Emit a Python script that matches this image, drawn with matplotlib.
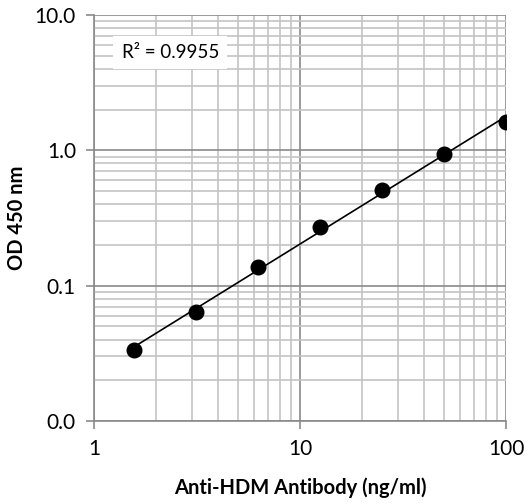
import numpy as np
import matplotlib.pyplot as plt
from matplotlib.ticker import FixedLocator, FuncFormatter, LogLocator, NullFormatter

conc = [1.5625, 3.125, 6.25, 12.5, 25, 50, 100]
od = [0.0335, 0.0642, 0.138, 0.270, 0.509, 0.94, 1.62]
r2_label = 'R² = 0.9955'

plt.rcParams['font.family'] = ['Lato', 'DejaVu Sans']

fig = plt.figure(figsize=(5.29, 5.04), dpi=100)
ax = fig.add_axes([94/529, 1 - 421/504, 412/529, 406/504])

# power trendline (straight line in log-log)
b, a = np.polyfit(np.log10(conc), np.log10(od), 1)
xs = np.array([conc[0], conc[-1]])
ax.plot(xs, 10**a * xs**b, color='black', lw=1.2, zorder=3)
ax.plot(conc, od, 'o', color='black', ms=10.5, zorder=4)

ax.set_xscale('log')
ax.set_yscale('log')
ax.set_xlim(1, 100)
ax.set_ylim(0.01, 10)

ax.xaxis.set_major_locator(FixedLocator([1, 10, 100]))
ax.yaxis.set_major_locator(FixedLocator([0.01, 0.1, 1, 10]))
ax.xaxis.set_minor_locator(LogLocator(base=10, subs=np.arange(2, 10)))
ax.yaxis.set_minor_locator(LogLocator(base=10, subs=np.arange(2, 10)))
ax.xaxis.set_major_formatter(FuncFormatter(lambda v, p: '%g' % v))
ax.yaxis.set_major_formatter(FuncFormatter(lambda v, p: '%.1f' % v))
ax.xaxis.set_minor_formatter(NullFormatter())
ax.yaxis.set_minor_formatter(NullFormatter())

ax.grid(which='major', color='#8a8a8a', lw=1.2)
ax.grid(which='minor', color='#c4c4c4', lw=1.2)
ax.set_axisbelow(True)

for s in ['top', 'right']:
    ax.spines[s].set_visible(False)
for s in ['left', 'bottom']:
    ax.spines[s].set_color('#8a8a8a')
    ax.spines[s].set_linewidth(1.2)
ax.tick_params(which='major', direction='out', length=6, width=1.2, color='#8a8a8a',
               labelsize=15, pad=7)
ax.tick_params(which='minor', length=0)

ax.set_xlabel('Anti-HDM Antibody (ng/ml)', fontsize=14.5, fontweight='bold')
ax.set_ylabel('OD 450 nm', fontsize=14.5, fontweight='bold')
ax.xaxis.set_label_coords(0.5, -0.165)
ax.yaxis.set_label_coords(-0.187, 0.5)
ax.yaxis.label.set_va('center')
ax.xaxis.label.set_va('center')

ax.text(0.185, 0.908, r2_label, transform=ax.transAxes, ha='center', va='center',
        fontsize=13.5, bbox=dict(facecolor='white', edgecolor='none', pad=6))

fig.savefig('out.png', dpi=100)
